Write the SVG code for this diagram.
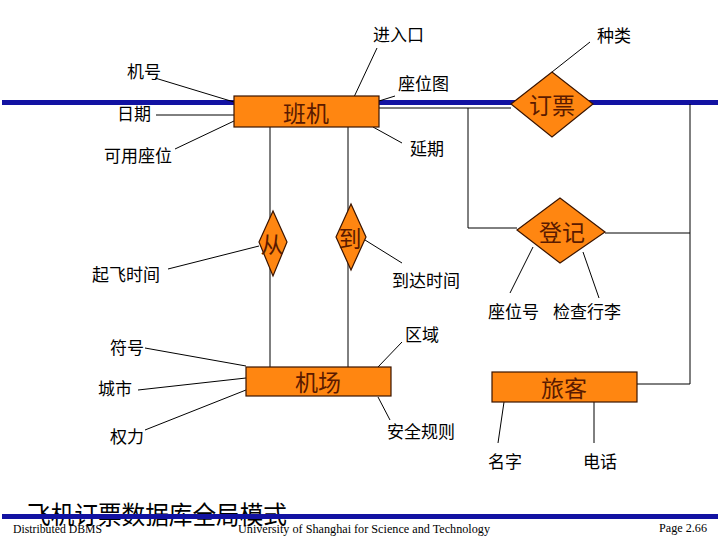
<svg xmlns="http://www.w3.org/2000/svg" width="720" height="540" viewBox="0 0 720 540">
<style>
.bar{fill:#1212A2}
.ent{fill:#FF8611;stroke:#3a1400;stroke-width:1.2}
.nl{font-family:"Noto Sans CJK SC","Noto Sans",sans-serif;font-size:23px;fill:#5a1a00;text-anchor:middle;dominant-baseline:central}
.at{font-family:"Noto Sans CJK SC","Noto Sans",sans-serif;font-size:17px;fill:#000;dominant-baseline:central}
.ft{font-family:"Liberation Serif",serif;font-size:12px;fill:#000}
.c line,.c polyline{stroke:#000;stroke-width:1;fill:none}
</style>
<rect width="720" height="540" fill="#fff"/>
<rect class="bar" x="2" y="100" width="716" height="5"/>
<g class="c" id="connectors">
<line x1="155" y1="78" x2="234" y2="102"/>
<line x1="156" y1="115" x2="234" y2="115"/>
<line x1="175" y1="149" x2="234" y2="121"/>
<line x1="377" y1="48" x2="354" y2="97"/>
<line x1="379" y1="101" x2="395" y2="96"/>
<line x1="373" y1="127" x2="402" y2="143"/>
<line x1="379" y1="108" x2="511" y2="108"/>
<polyline points="468,108 468,228 517,228"/>
<line x1="552" y1="72" x2="590" y2="42"/>
<line x1="690" y1="104" x2="690" y2="384"/>
<line x1="605" y1="233" x2="690" y2="233"/>
<line x1="637" y1="384" x2="690" y2="384"/>
<line x1="533" y1="247" x2="510" y2="293"/>
<line x1="583" y1="252" x2="599" y2="298"/>
<line x1="270" y1="127" x2="270" y2="367"/>
<line x1="348" y1="127" x2="348" y2="367"/>
<line x1="168" y1="269" x2="259" y2="246"/>
<line x1="365" y1="240" x2="402" y2="263"/>
<line x1="145" y1="348" x2="246" y2="366"/>
<line x1="138" y1="390" x2="246" y2="378"/>
<line x1="145" y1="430" x2="246" y2="390"/>
<line x1="402" y1="342" x2="378" y2="367"/>
<line x1="378" y1="397" x2="390" y2="420"/>
<line x1="504" y1="402" x2="498" y2="443"/>
<line x1="594" y1="402" x2="594" y2="443"/>
</g>
<g id="banji"><rect class="ent" x="234" y="96" width="145" height="31"/><text class="nl" x="306" y="112">班机</text></g>
<g id="dingpiao"><polygon class="ent" points="511,104 552,72 593,104 552,137"/><text class="nl" x="552" y="104">订票</text></g>
<g id="dengji"><polygon class="ent" points="517,230 560,198 605,232 560,263"/><text class="nl" x="562" y="231">登记</text></g>
<g id="cong"><polygon class="ent" points="259,242 273,211 287,242 273,276"/><text class="nl" x="272" y="243">从</text></g>
<g id="dao"><polygon class="ent" points="336,237 351,204 366,237 351,270"/><text class="nl" x="350" y="237">到</text></g>
<g id="jichang"><rect class="ent" x="246" y="367" width="145" height="29"/><text class="nl" x="318" y="381">机场</text></g>
<g id="lvke"><rect class="ent" x="492" y="372" width="145" height="30"/><text class="nl" x="564" y="387">旅客</text></g>
<g id="attrs">
<text class="at" x="373" y="33">进入口</text>
<text class="at" x="597" y="34">种类</text>
<text class="at" x="127" y="70">机号</text>
<text class="at" x="398" y="82">座位图</text>
<text class="at" x="117" y="112">日期</text>
<text class="at" x="104" y="154">可用座位</text>
<text class="at" x="410" y="147">延期</text>
<text class="at" x="92" y="273">起飞时间</text>
<text class="at" x="392" y="279">到达时间</text>
<text class="at" x="488" y="310">座位号</text>
<text class="at" x="553" y="310">检查行李</text>
<text class="at" x="405" y="333">区域</text>
<text class="at" x="110" y="346">符号</text>
<text class="at" x="98" y="387">城市</text>
<text class="at" x="110" y="435">权力</text>
<text class="at" x="387" y="430">安全规则</text>
<text class="at" x="488" y="460">名字</text>
<text class="at" x="583" y="460">电话</text>
</g>
<text x="27" y="524" font-family="Noto Sans CJK SC,sans-serif" font-size="25" fill="#000" textLength="260" lengthAdjust="spacingAndGlyphs">飞机订票数据库全局模式</text>
<rect class="bar" x="2" y="514" width="716" height="5"/>
<text class="ft" x="13" y="533" textLength="89" lengthAdjust="spacingAndGlyphs">Distributed DBMS</text>
<text class="ft" x="238" y="533" textLength="252" lengthAdjust="spacingAndGlyphs">University of  Shanghai for Science and Technology</text>
<text class="ft" x="659" y="532" textLength="48" lengthAdjust="spacingAndGlyphs">Page 2.66</text>
</svg>
